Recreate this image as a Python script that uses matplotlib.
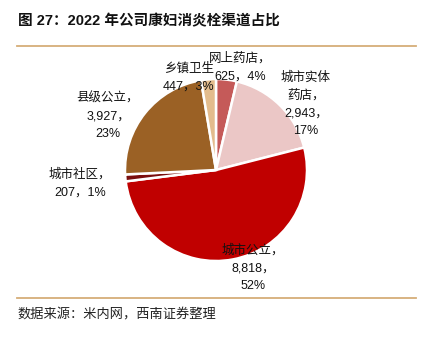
import matplotlib
matplotlib.use("Agg")
import matplotlib.pyplot as plt
from matplotlib.lines import Line2D

plt.rcParams['font.family'] = ['Liberation Sans', 'Noto Sans CJK SC', 'DejaVu Sans']

# ---- data ----
categories = ["网上药店", "城市实体药店", "城市公立", "城市社区", "县级公立", "乡镇卫生"]
values = [625, 2943, 8818, 207, 3927, 447]
percents = [4, 17, 52, 1, 23, 3]
label_texts = [
    "网上药店，\n625，4%",
    "城市实体\n药店，\n2,943，\n17%",
    "城市公立，\n8,818，\n52%",
    "城市社区，\n207，1%",
    "县级公立，\n3,927，\n23%",
    "乡镇卫生\n447，3%",
]
colors = ["#C55A59", "#EBC7C6", "#C00000", "#7A0E0E", "#9B6125", "#E3BC8D"]

title = "图 27：2022 年公司康妇消炎栓渠道占比"
source = "数据来源：米内网，西南证券整理"

# label anchor positions (data units, pie radius = 1)
label_pos = [(0.264, 1.126), (0.989, 0.725), (0.407, -1.077),
             (-1.495, -0.148), (-1.187, 0.588), (-0.30, 1.011)]

W, H = 426, 339
fig = plt.figure(figsize=(W / 100, H / 100), dpi=100)

cx, cy, r = 216, 169, 91
L = 1.6
ax = fig.add_axes([(cx - L * r) / W, (cy - L * r) / H, 2 * L * r / W, 2 * L * r / H])
ax.pie(values, colors=colors, startangle=90, counterclock=False, radius=1,
       wedgeprops=dict(edgecolor="white", linewidth=1.8))
ax.set_xlim(-L, L)
ax.set_ylim(-L, L)
ax.axis("off")

for txt, (x, y) in zip(label_texts, label_pos):
    ax.text(x, y, txt, ha="center", va="center", fontsize=9, color="#111111",
            linespacing=1.62, multialignment="center")

# title
fig.text(18 / W, 1 - 21 / H, title, fontsize=10.5, fontweight="bold",
         ha="left", va="center", color="#111111")

# rules
line_color = "#D6AE78"
for yy in (46, 298):
    fig.add_artist(Line2D([17 / W, 416 / W], [1 - yy / H, 1 - yy / H],
                          transform=fig.transFigure, color=line_color, linewidth=1.3))

# source
fig.text(17 / W, 1 - 315 / H, source, fontsize=9.5, style="italic",
         ha="left", va="center", color="#222222")

fig.savefig("out.png", dpi=100)
